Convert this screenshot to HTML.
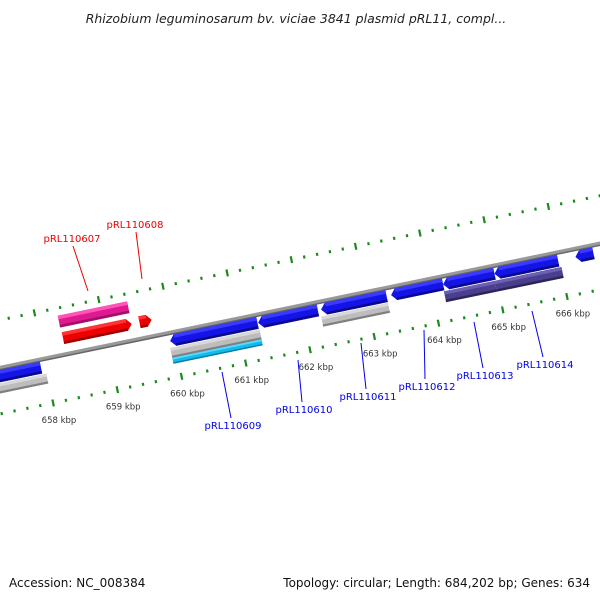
<!DOCTYPE html>
<html><head><meta charset="utf-8"><style>
html,body{margin:0;padding:0;background:#fff;}
svg{display:block;font-family:"DejaVu Sans","Liberation Sans",sans-serif;}
</style></head><body>
<svg id="chart" width="600" height="600" viewBox="0 0 600 600">
<text x="296" y="23" text-anchor="middle" font-size="12.5" font-style="italic" fill="#222" font-family="DejaVu Sans, sans-serif">Rhizobium leguminosarum bv. viciae 3841 plasmid pRL11, compl...</text>
<g id="map" transform="translate(0,368) rotate(-11.7)"></g>
<g id="labels"></g>
<text x="9" y="587" font-size="12" fill="#111">Accession: NC_008384</text>
<text x="590" y="587" font-size="12" fill="#111" text-anchor="end">Topology: circular; Length: 684,202 bp; Genes: 634</text>
</svg>
<script>
const geneStart=[658.34,658.35,659.54,657.0,659.94,661.31,662.29,663.38,664.19,664.99,666.25,657.0,659.92,659.92,662.27,664.18,664.97];
const geneEnd=[659.42,659.42,659.73,657.93,661.30,662.24,663.31,664.19,664.99,665.98,666.53,657.99,661.31,661.31,663.31,664.97,666.01];
const geneTrack=["pink","red","red","blue","blue","blue","blue","blue","blue","blue","blue","grey","grey","cyan","grey","purple","purple"];
const geneDir=[0,1,1,0,-1,-1,-1,-1,-1,-1,-1,0,0,0,0,0,0];
const kbpLabels=[658,659,660,661,662,663,664,665,666];
const geneLabels=["pRL110607","pRL110608","pRL110609","pRL110610","pRL110611","pRL110612","pRL110613","pRL110614"];
const geneLabelColor=["red","red","blue","blue","blue","blue","blue","blue"];

const NS="http://www.w3.org/2000/svg";
const map=document.getElementById('map');
const labels=document.getElementById('labels');
const U0=44.8, PX=65.6;
function u(k){return U0+(k-658)*PX;}
const sinA=Math.sin(11.7*Math.PI/180), cosA=Math.cos(11.7*Math.PI/180);
function toScreen(uu,v){return [uu*cosA+v*sinA, 368-uu*sinA+v*cosA];}
const trackV={pink:[-39.5,-27.5],red:[-22.5,-10.5],blue:[2,14],grey:[15,25],cyan:[25,31],purple:[15,26]};
const trackFill={pink:["#ff55bb","#e0198f","#a0106a"],red:["#ff3333","#ee0000","#a00000"],blue:["#3a3aff","#1414e6","#0a0a90"],grey:["#d8d8d8","#bdbdbd","#808080"],cyan:["#55ddff","#11bbee","#0a7aa0"],purple:["#6a5fb0","#4a3f8e","#2c255a"]};
function mk(tag,attrs){const e=document.createElementNS(NS,tag);for(const k in attrs)e.setAttribute(k,attrs[k]);return e;}

// backbone
const bb=mk('rect',{x:-50,y:-2.2,width:760,height:4.4,fill:'#999'});


map.appendChild(bb);
const bb2=mk('rect',{x:-50,y:0.8,width:760,height:1.4,fill:'#666'});


map.appendChild(bb2);

// ticks
for(let i=0;i<=55;i++){
  const k=656.6+i*0.2;
  const major=Math.abs(k-Math.round(k))<0.01;
  [-47,45].forEach(function(vc){
    const h=major?7:3;
    const t=mk('rect',{x:u(k)-1,y:vc-h/2,width:2.2,height:h,fill:'#1a8a1a'});
    
    
    map.appendChild(t);
  });
}

// genes
for(let i=0;i<geneStart.length;i++){
  const a=u(geneStart[i]), b=u(geneEnd[i]);
  const [v1,v2]=trackV[geneTrack[i]];
  const vm=(v1+v2)/2, head=5, d=geneDir[i];
  let pts;
  if(d===1) pts=[[a,v1],[b-head,v1],[b,vm],[b-head,v2],[a,v2]];
  else if(d===-1) pts=[[a,vm],[a+head,v1],[b,v1],[b,v2],[a+head,v2]];
  else pts=[[a,v1],[b,v1],[b,v2],[a,v2]];
  const f=trackFill[geneTrack[i]];
  const g=mk('g',{});
  
  
  const p=mk('polygon',{points:pts.map(q=>q.join(',')).join(' '),fill:f[1]});
  g.appendChild(p);
  const hi=mk('rect',{x:a+(d===-1?head:0),y:v1,width:Math.max(0,b-a-head*(d!==0?1:0)),height:(v2-v1)*0.3,fill:f[0]});
  g.appendChild(hi);
  const lo=mk('rect',{x:a+(d===-1?head:0),y:v2-(v2-v1)*0.22,width:Math.max(0,b-a-head*(d!==0?1:0)),height:(v2-v1)*0.22,fill:f[2]});
  g.appendChild(lo);
  map.appendChild(g);
}

// kbp labels
kbpLabels.forEach(function(k){
  const [x,y]=toScreen(u(k),45);
  const t=mk('text',{x:x+6,y:y+20,'font-size':8.5,fill:'#333','text-anchor':'middle'});
  t.textContent=k+' kbp';
  
  
  labels.appendChild(t);
});

// gene labels (screen coords for layout)
const labelX=[72,135,233,304,368,427,485,545];
const labelY=[242,228,429,413,400,390,379,368];
const lineFrom=[[88,291],[142,279],[222,372],[298,360],[361,343],[424,330],[474,322],[532,311]];
geneLabels.forEach(function(n,i){
  const col=geneLabelColor[i]==='red'?'#ee0000':'#0000ee';
  const l=mk('line',{x1:lineFrom[i][0],y1:lineFrom[i][1],x2:labelX[i]+(i<2?1:-2),y2:labelY[i]+(i<2?4:-11),stroke:col,'stroke-width':1});
  
  
  labels.appendChild(l);
  const t=mk('text',{x:labelX[i],y:labelY[i],'font-size':10,fill:col,'text-anchor':'middle'});
  t.textContent=n;
  
  
  labels.appendChild(t);
});
</script>
</body></html>
